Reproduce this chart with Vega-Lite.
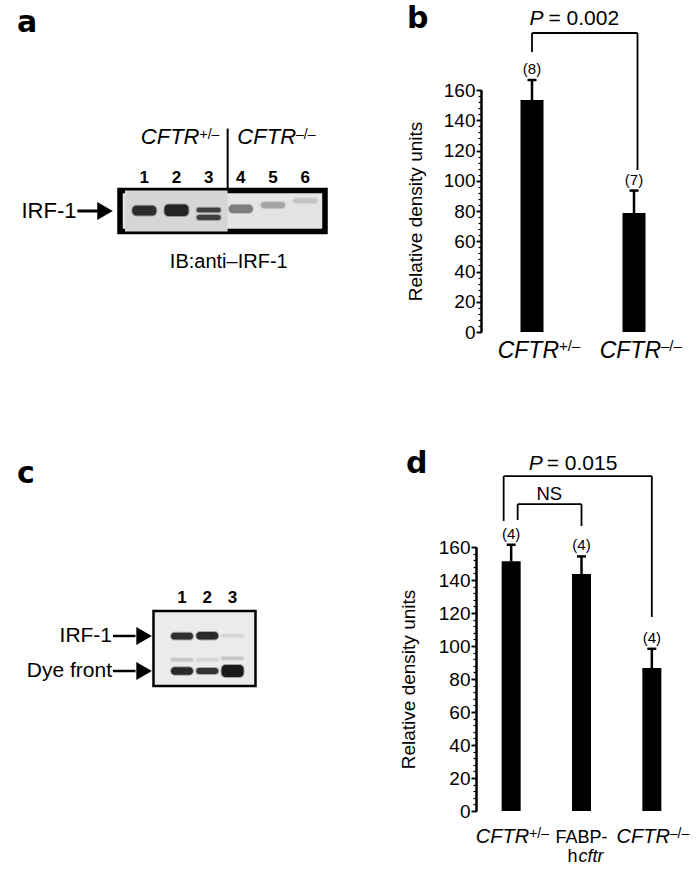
{
  "$schema": "https://vega.github.io/schema/vega-lite/v6.json",
  "background": "white",
  "padding": {"left": 14, "top": 4, "right": 0, "bottom": 0},
  "bounds": "flush",
  "spacing": 457,
  "datasets": {
    "a_lanes": [
      {"lane": 1, "label": "1"}, {"lane": 2, "label": "2"}, {"lane": 3, "label": "3"},
      {"lane": 4, "label": "4"}, {"lane": 5, "label": "5"}, {"lane": 6, "label": "6"}
    ],
    "a_bands": [
      {"lane": 1, "top": 0.37, "bottom": 0.61, "intensity": 0.9},
      {"lane": 2, "top": 0.34, "bottom": 0.62, "intensity": 0.95},
      {"lane": 3, "top": 0.42, "bottom": 0.53, "intensity": 0.8},
      {"lane": 3, "top": 0.6, "bottom": 0.72, "intensity": 0.8},
      {"lane": 4, "top": 0.35, "bottom": 0.55, "intensity": 0.5},
      {"lane": 5, "top": 0.28, "bottom": 0.43, "intensity": 0.3},
      {"lane": 6, "top": 0.19, "bottom": 0.31, "intensity": 0.15}
    ],
    "a_groups": [
      {"name": "CFTR", "sup": "+/–", "lane": 2},
      {"name": "CFTR", "sup": "–/–", "lane": 5}
    ],
    "a_labels": [{"label": "IRF-1", "pos": 0.5}],
    "a_caption": [{"caption": "IB:anti–IRF-1"}],
    "c_lanes": [{"lane": 1, "label": "1"}, {"lane": 2, "label": "2"}, {"lane": 3, "label": "3"}],
    "c_bands": [
      {"lane": 1, "top": 0.29, "bottom": 0.38, "intensity": 0.9},
      {"lane": 2, "top": 0.28, "bottom": 0.38, "intensity": 0.92},
      {"lane": 3, "top": 0.31, "bottom": 0.35, "intensity": 0.1},
      {"lane": 1, "top": 0.63, "bottom": 0.67, "intensity": 0.18},
      {"lane": 2, "top": 0.63, "bottom": 0.67, "intensity": 0.1},
      {"lane": 3, "top": 0.61, "bottom": 0.65, "intensity": 0.18},
      {"lane": 1, "top": 0.75, "bottom": 0.85, "intensity": 0.92},
      {"lane": 2, "top": 0.76, "bottom": 0.84, "intensity": 0.88},
      {"lane": 3, "top": 0.72, "bottom": 0.88, "intensity": 1}
    ],
    "c_labels": [
      {"label": "IRF-1", "pos": 0.333},
      {"label": "Dye front", "pos": 0.8}
    ],
    "b_data": [
      {"genotype": "CFTR+/–", "mean": 153.4, "upper": 166.6, "n": "(8)", "name": "CFTR", "sup": "+/–"},
      {"genotype": "CFTR–/–", "mean": 78.6, "upper": 93.5, "n": "(7)", "name": "CFTR", "sup": "–/–"}
    ],
    "b_bracket": [
      {"g1": "CFTR+/–", "g2": "CFTR–/–", "top": 197.7, "end1": 185.1, "end2": 107.1, "p": "P", "label": "= 0.002"}
    ],
    "d_data": [
      {"genotype": "CFTR+/–", "mean": 151.3, "upper": 161.4, "n": "(4)", "name": "CFTR", "sup": "+/–"},
      {"genotype": "FABP-hcftr", "mean": 143.6, "upper": 154.3, "n": "(4)", "name": "FABP-", "line2": "h", "line2_italic": "cftr"},
      {"genotype": "CFTR–/–", "mean": 86.6, "upper": 98.3, "n": "(4)", "name": "CFTR", "sup": "–/–"}
    ],
    "d_brackets": [
      {"id": "P", "g1": "CFTR+/–", "g2": "CFTR–/–", "top": 203, "end1": 175.8, "end2": 117.6, "p": "P", "label": "= 0.015"},
      {"id": "NS", "g1": "CFTR+/–", "g2": "FABP-hcftr", "top": 186, "end1": 176.4, "end2": 172.7, "p": "", "label": "NS"}
    ]
  },
  "vconcat": [
    {
      "hconcat": [
        {
          "width": 205,
          "height": 41,
          "view": {"fill": "#e4e4e4", "stroke": "black", "strokeWidth": 5.5},
          "title": {"text": "a", "dx": -103, "dy": -83.3},
          "layer": [
            {
              "data": {"values": [{"region": "CFTR+/– lanes"}]},
              "mark": {"type": "rect", "color": "#d6d6d6"},
              "encoding": {
                "x": {"datum": 0.4, "type": "quantitative", "scale": {"domain": [0.4, 6.46], "nice": false, "zero": false}, "axis": null},
                "x2": {"datum": 3.59},
                "y": {"datum": 0, "type": "quantitative", "scale": {"domain": [0, 1], "reverse": true, "nice": false, "zero": false}, "axis": null},
                "y2": {"datum": 1}
              }
            },
            {
              "data": {"name": "a_bands"},
              "mark": {"type": "bar", "width": 24, "cornerRadius": 4, "color": "#1a1a1a", "stroke": "#1a1a1a", "strokeWidth": 2, "strokeOpacity": 0.35},
              "encoding": {
                "x": {"field": "lane", "type": "quantitative", "axis": null},
                "y": {"field": "top", "type": "quantitative", "axis": null},
                "y2": {"field": "bottom"},
                "opacity": {"field": "intensity", "type": "quantitative", "scale": null, "legend": null}
              }
            },
            {
              "data": {"name": "a_lanes"},
              "mark": {"type": "text", "align": "center", "baseline": "alphabetic", "fontSize": 17, "fontWeight": "bold", "dy": -8},
              "encoding": {
                "x": {"field": "lane", "type": "quantitative", "axis": null},
                "y": {"datum": 0, "type": "quantitative", "axis": null},
                "text": {"field": "label"}
              }
            },
            {
              "data": {"values": [{"boundary": "CFTR+/– | CFTR–/–"}]},
              "mark": {"type": "rule", "strokeWidth": 2, "color": "black"},
              "encoding": {
                "x": {"datum": 3.59, "type": "quantitative", "axis": null},
                "y": {"datum": 0, "type": "quantitative", "axis": null},
                "y2": {"datum": -1.51}
              }
            },
            {
              "data": {"name": "a_groups"},
              "mark": {"type": "text", "align": "right", "baseline": "alphabetic", "fontStyle": "italic", "fontSize": 22, "dx": 23, "dy": -47},
              "encoding": {
                "x": {"field": "lane", "type": "quantitative", "axis": null},
                "y": {"datum": 0, "type": "quantitative", "axis": null},
                "text": {"field": "name"}
              }
            },
            {
              "data": {"name": "a_groups"},
              "mark": {"type": "text", "align": "left", "baseline": "alphabetic", "fontSize": 14, "dx": 23, "dy": -52},
              "encoding": {
                "x": {"field": "lane", "type": "quantitative", "axis": null},
                "y": {"datum": 0, "type": "quantitative", "axis": null},
                "text": {"field": "sup"}
              }
            },
            {
              "data": {"name": "a_labels"},
              "mark": {"type": "text", "align": "right", "baseline": "middle", "fontSize": 22},
              "encoding": {
                "x": {"datum": -1.109, "type": "quantitative", "axis": null},
                "y": {"field": "pos", "type": "quantitative", "axis": null},
                "text": {"field": "label"}
              }
            },
            {
              "data": {"name": "a_labels"},
              "mark": {"type": "rule", "strokeWidth": 3, "color": "black"},
              "encoding": {
                "x": {"datum": -1.079, "type": "quantitative", "axis": null},
                "x2": {"datum": -0.458},
                "y": {"field": "pos", "type": "quantitative", "axis": null}
              }
            },
            {
              "data": {"name": "a_labels"},
              "mark": {"type": "point", "shape": "triangle-right", "size": 324, "filled": true, "color": "black", "opacity": 1},
              "encoding": {
                "x": {"datum": -0.221, "type": "quantitative", "axis": null},
                "y": {"field": "pos", "type": "quantitative", "axis": null}
              }
            },
            {
              "data": {"name": "a_caption"},
              "mark": {"type": "text", "align": "center", "baseline": "alphabetic", "fontSize": 20, "dy": 36},
              "encoding": {
                "x": {"datum": 3.625, "type": "quantitative", "axis": null},
                "y": {"datum": 1, "type": "quantitative", "axis": null},
                "text": {"field": "caption"}
              }
            }
          ]
        },
        {
          "width": 204,
          "height": 242,
          "title": {"text": "b", "dx": -74, "dy": 30.3},
          "resolve": {"axis": {"y": "independent"}},
          "layer": [
            {
              "data": {"name": "b_data"},
              "mark": {"type": "bar", "width": 23, "color": "black"},
              "encoding": {
                "x": {"field": "genotype", "type": "nominal", "sort": null,
                  "scale": {"domain": ["CFTR+/–", "CFTR–/–"], "paddingInner": 0, "paddingOuter": 0},
                  "axis": {"orient": "bottom", "labels": false, "title": null, "tickSize": 5, "tickWidth": 2, "domainWidth": 2, "bandPosition": 1, "grid": false}},
                "y": {"field": "mean", "type": "quantitative", "scale": {"domain": [0, 160], "nice": false},
                  "axis": {"orient": "left", "values": [0, 20, 40, 60, 80, 100, 120, 140, 160], "tickSize": 5, "tickWidth": 1.8, "domainWidth": 2, "labelFontSize": 19, "labelPadding": 1, "title": "Relative density units", "titleFontSize": 19, "titlePadding": 18, "grid": false}}
              }
            },
            {
              "data": {"name": "b_data"},
              "mark": {"type": "rule", "strokeWidth": 2.5, "color": "black"},
              "encoding": {
                "x": {"field": "genotype", "type": "nominal", "sort": null, "axis": null},
                "y": {"field": "mean", "type": "quantitative",
                  "axis": {"orient": "left", "values": [0,4,8,12,16,20,24,28,32,36,40,44,48,52,56,60,64,68,72,76,80,84,88,92,96,100,104,108,112,116,120,124,128,132,136,140,144,148,152,156,160], "tickSize": 3, "tickWidth": 1.2, "labels": false, "domain": true, "domainWidth": 2, "title": null, "grid": false}},
                "y2": {"field": "upper"}
              }
            },
            {
              "data": {"name": "b_data"},
              "mark": {"type": "tick", "orient": "horizontal", "size": 9, "thickness": 2.5, "color": "black", "opacity": 1},
              "encoding": {
                "x": {"field": "genotype", "type": "nominal", "sort": null, "axis": null},
                "y": {"field": "upper", "type": "quantitative", "axis": null}
              }
            },
            {
              "data": {"name": "b_data"},
              "mark": {"type": "text", "baseline": "bottom", "fontSize": 15, "dy": -3},
              "encoding": {
                "x": {"field": "genotype", "type": "nominal", "sort": null, "axis": null},
                "y": {"field": "upper", "type": "quantitative", "axis": null},
                "text": {"field": "n"}
              }
            },
            {
              "data": {"name": "b_data"},
              "mark": {"type": "text", "align": "right", "baseline": "alphabetic", "fontStyle": "italic", "fontSize": 23, "dx": 27, "dy": 26},
              "encoding": {
                "x": {"field": "genotype", "type": "nominal", "sort": null, "axis": null},
                "y": {"datum": 0, "type": "quantitative", "axis": null},
                "text": {"field": "name"}
              }
            },
            {
              "data": {"name": "b_data"},
              "mark": {"type": "text", "align": "left", "baseline": "alphabetic", "fontSize": 15, "dx": 27, "dy": 18.5},
              "encoding": {
                "x": {"field": "genotype", "type": "nominal", "sort": null, "axis": null},
                "y": {"datum": 0, "type": "quantitative", "axis": null},
                "text": {"field": "sup"}
              }
            },
            {
              "data": {"name": "b_bracket"},
              "mark": {"type": "rule", "strokeWidth": 1.8, "color": "black", "x2Offset": 3.5},
              "encoding": {
                "x": {"field": "g1", "type": "nominal", "axis": null},
                "x2": {"field": "g2"},
                "y": {"field": "top", "type": "quantitative", "axis": null}
              }
            },
            {
              "data": {"name": "b_bracket"},
              "mark": {"type": "rule", "strokeWidth": 1.8, "color": "black"},
              "encoding": {
                "x": {"field": "g1", "type": "nominal", "axis": null},
                "y": {"field": "top", "type": "quantitative", "axis": null},
                "y2": {"field": "end1"}
              }
            },
            {
              "data": {"name": "b_bracket"},
              "mark": {"type": "rule", "strokeWidth": 1.8, "color": "black", "xOffset": 3.5},
              "encoding": {
                "x": {"field": "g2", "type": "nominal", "axis": null},
                "y": {"field": "top", "type": "quantitative", "axis": null},
                "y2": {"field": "end2"}
              }
            },
            {
              "data": {"name": "b_bracket"},
              "mark": {"type": "text", "align": "right", "baseline": "alphabetic", "fontStyle": "italic", "fontSize": 21, "dx": 11.5, "dy": -8},
              "encoding": {
                "x": {"field": "g1", "type": "nominal", "axis": null},
                "y": {"field": "top", "type": "quantitative", "axis": null},
                "text": {"field": "p"}
              }
            },
            {
              "data": {"name": "b_bracket"},
              "mark": {"type": "text", "align": "left", "baseline": "alphabetic", "fontSize": 21, "dx": 16.5, "dy": -8},
              "encoding": {
                "x": {"field": "g1", "type": "nominal", "axis": null},
                "y": {"field": "top", "type": "quantitative", "axis": null},
                "text": {"field": "label"}
              }
            }
          ]
        }
      ],
      "spacing": 156,
      "bounds": "flush",
      "center": true
    },
    {
      "hconcat": [
        {
          "hconcat": [
            {
              "width": 1,
              "height": 203,
              "data": {"values": []},
              "mark": {"type": "point", "opacity": 0}
            },
            {
              "width": 102,
              "height": 75,
              "view": {"fill": "#ebebeb", "stroke": "black", "strokeWidth": 2.5},
              "title": {"text": "c", "dx": -136.5, "dy": -95.7},
              "layer": [
                {
                  "data": {"name": "c_bands"},
                  "mark": {"type": "bar", "width": 22, "cornerRadius": 4, "color": "#1a1a1a", "stroke": "#1a1a1a", "strokeWidth": 2, "strokeOpacity": 0.35},
                  "encoding": {
                    "x": {"field": "lane", "type": "quantitative", "scale": {"domain": [0.07, 3.71], "nice": false, "zero": false}, "axis": null},
                    "y": {"field": "top", "type": "quantitative", "scale": {"domain": [0, 1], "reverse": true, "nice": false, "zero": false}, "axis": null},
                    "y2": {"field": "bottom"},
                    "opacity": {"field": "intensity", "type": "quantitative", "scale": null, "legend": null}
                  }
                },
                {
                  "data": {"name": "c_lanes"},
                  "mark": {"type": "text", "align": "center", "baseline": "alphabetic", "fontSize": 17, "fontWeight": "bold", "dy": -8},
                  "encoding": {
                    "x": {"field": "lane", "type": "quantitative", "axis": null},
                    "y": {"datum": 0, "type": "quantitative", "axis": null},
                    "text": {"field": "label"}
                  }
                },
                {
                  "data": {"name": "c_labels"},
                  "mark": {"type": "text", "align": "right", "baseline": "middle", "fontSize": 21},
                  "encoding": {
                    "x": {"datum": -1.768, "type": "quantitative", "axis": null},
                    "y": {"field": "pos", "type": "quantitative", "axis": null},
                    "text": {"field": "label"}
                  }
                },
                {
                  "data": {"name": "c_labels"},
                  "mark": {"type": "rule", "strokeWidth": 2.5, "color": "black"},
                  "encoding": {
                    "x": {"datum": -1.732, "type": "quantitative", "axis": null},
                    "x2": {"datum": -0.839},
                    "y": {"field": "pos", "type": "quantitative", "axis": null}
                  }
                },
                {
                  "data": {"name": "c_labels"},
                  "mark": {"type": "point", "shape": "triangle-right", "size": 324, "filled": true, "color": "black", "opacity": 1},
                  "encoding": {
                    "x": {"datum": -0.5, "type": "quantitative", "axis": null},
                    "y": {"field": "pos", "type": "quantitative", "axis": null}
                  }
                }
              ]
            }
          ],
          "spacing": 32.5,
          "bounds": "flush",
          "center": true
        },
        {
          "width": 211,
          "height": 264,
          "title": {"text": "d", "dx": -70, "dy": 30.3},
          "resolve": {"axis": {"y": "independent"}},
          "layer": [
            {
              "data": {"name": "d_data"},
              "mark": {"type": "bar", "width": 19, "color": "black"},
              "encoding": {
                "x": {"field": "genotype", "type": "nominal", "sort": null,
                  "scale": {"domain": ["CFTR+/–", "FABP-hcftr", "CFTR–/–"], "paddingInner": 0, "paddingOuter": 0},
                  "axis": {"orient": "bottom", "labels": false, "title": null, "tickSize": 5, "tickWidth": 2, "domainWidth": 2, "bandPosition": 1, "grid": false}},
                "y": {"field": "mean", "type": "quantitative", "scale": {"domain": [0, 160], "nice": false},
                  "axis": {"orient": "left", "values": [0, 20, 40, 60, 80, 100, 120, 140, 160], "tickSize": 5, "tickWidth": 1.8, "domainWidth": 2, "labelFontSize": 19, "labelPadding": 1, "title": "Relative density units", "titleFontSize": 19, "titlePadding": 20, "grid": false}}
              }
            },
            {
              "data": {"name": "d_data"},
              "mark": {"type": "rule", "strokeWidth": 2.5, "color": "black"},
              "encoding": {
                "x": {"field": "genotype", "type": "nominal", "sort": null, "axis": null},
                "y": {"field": "mean", "type": "quantitative",
                  "axis": {"orient": "left", "values": [0,4,8,12,16,20,24,28,32,36,40,44,48,52,56,60,64,68,72,76,80,84,88,92,96,100,104,108,112,116,120,124,128,132,136,140,144,148,152,156,160], "tickSize": 3, "tickWidth": 1.2, "labels": false, "domain": true, "domainWidth": 2, "title": null, "grid": false}},
                "y2": {"field": "upper"}
              }
            },
            {
              "data": {"name": "d_data"},
              "mark": {"type": "tick", "orient": "horizontal", "size": 9, "thickness": 2.5, "color": "black", "opacity": 1},
              "encoding": {
                "x": {"field": "genotype", "type": "nominal", "sort": null, "axis": null},
                "y": {"field": "upper", "type": "quantitative", "axis": null}
              }
            },
            {
              "data": {"name": "d_data"},
              "mark": {"type": "text", "baseline": "bottom", "fontSize": 15, "dy": -3},
              "encoding": {
                "x": {"field": "genotype", "type": "nominal", "sort": null, "axis": null},
                "y": {"field": "upper", "type": "quantitative", "axis": null},
                "text": {"field": "n"}
              }
            },
            {
              "data": {"name": "d_data"},
              "transform": [{"filter": "isValid(datum.sup)"}],
              "mark": {"type": "text", "align": "right", "baseline": "alphabetic", "fontStyle": "italic", "fontSize": 20, "dx": 18, "dy": 32},
              "encoding": {
                "x": {"field": "genotype", "type": "nominal", "sort": null, "axis": null},
                "y": {"datum": 0, "type": "quantitative", "axis": null},
                "text": {"field": "name"}
              }
            },
            {
              "data": {"name": "d_data"},
              "transform": [{"filter": "isValid(datum.sup)"}],
              "mark": {"type": "text", "align": "left", "baseline": "alphabetic", "fontSize": 14, "dx": 18, "dy": 27},
              "encoding": {
                "x": {"field": "genotype", "type": "nominal", "sort": null, "axis": null},
                "y": {"datum": 0, "type": "quantitative", "axis": null},
                "text": {"field": "sup"}
              }
            },
            {
              "data": {"name": "d_data"},
              "transform": [{"filter": "isValid(datum.line2)"}],
              "mark": {"type": "text", "align": "center", "baseline": "alphabetic", "fontSize": 18, "dy": 32},
              "encoding": {
                "x": {"field": "genotype", "type": "nominal", "sort": null, "axis": null},
                "y": {"datum": 0, "type": "quantitative", "axis": null},
                "text": {"field": "name"}
              }
            },
            {
              "data": {"name": "d_data"},
              "transform": [{"filter": "isValid(datum.line2)"}],
              "mark": {"type": "text", "align": "right", "baseline": "alphabetic", "fontSize": 18, "dx": -4, "dy": 50.5},
              "encoding": {
                "x": {"field": "genotype", "type": "nominal", "sort": null, "axis": null},
                "y": {"datum": 0, "type": "quantitative", "axis": null},
                "text": {"field": "line2"}
              }
            },
            {
              "data": {"name": "d_data"},
              "transform": [{"filter": "isValid(datum.line2)"}],
              "mark": {"type": "text", "align": "left", "baseline": "alphabetic", "fontStyle": "italic", "fontSize": 18, "dx": -3, "dy": 50.5},
              "encoding": {
                "x": {"field": "genotype", "type": "nominal", "sort": null, "axis": null},
                "y": {"datum": 0, "type": "quantitative", "axis": null},
                "text": {"field": "line2_italic"}
              }
            },
            {
              "data": {"name": "d_brackets"},
              "transform": [{"filter": "datum.id === 'P'"}],
              "mark": {"type": "rule", "strokeWidth": 1.8, "color": "black", "xOffset": -7.5},
              "encoding": {
                "x": {"field": "g1", "type": "nominal", "axis": null},
                "x2": {"field": "g2"},
                "y": {"field": "top", "type": "quantitative", "axis": null}
              }
            },
            {
              "data": {"name": "d_brackets"},
              "transform": [{"filter": "datum.id === 'P'"}],
              "mark": {"type": "rule", "strokeWidth": 1.8, "color": "black", "xOffset": -7.5},
              "encoding": {
                "x": {"field": "g1", "type": "nominal", "axis": null},
                "y": {"field": "top", "type": "quantitative", "axis": null},
                "y2": {"field": "end1"}
              }
            },
            {
              "data": {"name": "d_brackets"},
              "transform": [{"filter": "datum.id === 'NS'"}],
              "mark": {"type": "rule", "strokeWidth": 1.8, "color": "black", "xOffset": 6.5},
              "encoding": {
                "x": {"field": "g1", "type": "nominal", "axis": null},
                "x2": {"field": "g2"},
                "y": {"field": "top", "type": "quantitative", "axis": null}
              }
            },
            {
              "data": {"name": "d_brackets"},
              "transform": [{"filter": "datum.id === 'NS'"}],
              "mark": {"type": "rule", "strokeWidth": 1.8, "color": "black", "xOffset": 6.5},
              "encoding": {
                "x": {"field": "g1", "type": "nominal", "axis": null},
                "y": {"field": "top", "type": "quantitative", "axis": null},
                "y2": {"field": "end1"}
              }
            },
            {
              "data": {"name": "d_brackets"},
              "mark": {"type": "rule", "strokeWidth": 1.8, "color": "black"},
              "encoding": {
                "x": {"field": "g2", "type": "nominal", "axis": null},
                "y": {"field": "top", "type": "quantitative", "axis": null},
                "y2": {"field": "end2"}
              }
            },
            {
              "data": {"name": "d_brackets"},
              "transform": [{"filter": "datum.id === 'P'"}],
              "mark": {"type": "text", "align": "right", "baseline": "alphabetic", "fontStyle": "italic", "fontSize": 21, "dx": 31.5, "dy": -6},
              "encoding": {
                "x": {"field": "g1", "type": "nominal", "axis": null},
                "y": {"field": "top", "type": "quantitative", "axis": null},
                "text": {"field": "p"}
              }
            },
            {
              "data": {"name": "d_brackets"},
              "transform": [{"filter": "datum.id === 'P'"}],
              "mark": {"type": "text", "align": "left", "baseline": "alphabetic", "fontSize": 21, "dx": 35.5, "dy": -6},
              "encoding": {
                "x": {"field": "g1", "type": "nominal", "axis": null},
                "y": {"field": "top", "type": "quantitative", "axis": null},
                "text": {"field": "label"}
              }
            },
            {
              "data": {"name": "d_brackets"},
              "transform": [{"filter": "datum.id === 'NS'"}],
              "mark": {"type": "text", "align": "center", "baseline": "alphabetic", "fontSize": 18.5, "dx": 3, "dy": -4},
              "encoding": {
                "x": {"field": "g1", "type": "nominal", "bandPosition": 1, "axis": null},
                "y": {"field": "top", "type": "quantitative", "axis": null},
                "text": {"field": "label"}
              }
            }
          ]
        }
      ],
      "spacing": 356,
      "bounds": "flush"
    }
  ],
  "config": {
    "view": {"stroke": null},
    "font": "Liberation Sans",
    "axis": {"domainColor": "black", "tickColor": "black", "labelColor": "black", "titleColor": "black", "labelFont": "Liberation Sans", "titleFont": "Liberation Sans", "titleFontWeight": "normal", "grid": false},
    "text": {"color": "black", "font": "Liberation Sans"},
    "title": {"color": "black", "font": "DejaVu Sans", "fontSize": 30, "fontWeight": "bold", "anchor": "start", "frame": "group", "offset": 0}
  }
}
